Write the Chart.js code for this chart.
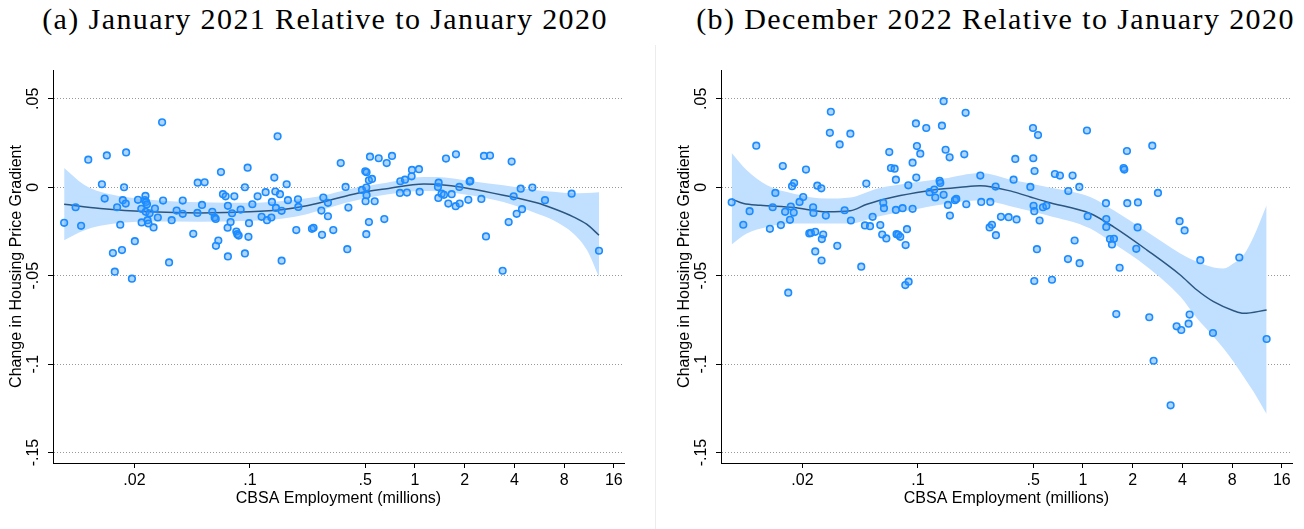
<!DOCTYPE html>
<html lang="en">
<head>
  <meta charset="UTF-8">
  <title>Change in Housing Price Gradient by CBSA Employment</title>
  <script src="https://cdn.jsdelivr.net/npm/chart.js"></script>
  <style>
    body { margin: 0; width: 1304px; height: 529px; overflow: hidden; background: #fff; position: relative; }
    .title {
      position: absolute; top: 3px; height: 34px;
      font-family: "Liberation Serif", "Times New Roman", serif; font-size: 30px; line-height: 32px;
      letter-spacing: 1.4px; text-align: center; white-space: nowrap; color: #000;
    }
    #titleA { left: 0; width: 650px; }
    #titleB { left: 668px; width: 655px; }
    .panel { position: absolute; top: 0; }
    #panelA { left: 0; }
    #panelB { left: 668px; }
    .sep { position: absolute; left: 655px; top: 45px; width: 1px; height: 484px; background: #ececec; }
  </style>
</head>
<body>
  <div class="title" id="titleA">(a) January 2021 Relative to January 2020</div>
  <div class="title" id="titleB">(b) December 2022 Relative to January 2020</div>
  <div class="sep"></div>
  <canvas class="panel" id="panelA" width="656" height="529"></canvas>
  <canvas class="panel" id="panelB" width="636" height="529"></canvas>

  <script>
    // axis ticks
    const xTickVals = [0.02, 0.1, 0.5, 1, 2, 4, 8, 16];
    const xTickLabels = ['.02', '.1', '.5', '1', '2', '4', '8', '16'];
    const yTickVals = [-0.15, -0.1, -0.05, 0, 0.05];
    const yTickLabels = ['-.15', '-.1', '-.05', '0', '.05'];

    // (a) January 2021: CBSA employment (millions) and change in gradient
    const empA = [0.0075, 0.0088, 0.0095, 0.0105, 0.0127, 0.0132, 0.0136, 0.0148, 0.0152, 0.0157,
      0.0164, 0.0168, 0.0170, 0.0173, 0.0177, 0.0178, 0.0193, 0.0201, 0.0210, 0.0220,
      0.0221, 0.0231, 0.0233, 0.0235, 0.0238, 0.0234, 0.0240, 0.0243, 0.0247, 0.0261,
      0.0266, 0.0277, 0.0294, 0.0298, 0.0324, 0.0336, 0.0360, 0.0392, 0.0392, 0.0454,
      0.0483, 0.0481, 0.0513, 0.0532, 0.0592, 0.0612, 0.0621, 0.0623, 0.0644, 0.0668,
      0.0687, 0.0713, 0.0736, 0.0733, 0.0736, 0.0764, 0.0780, 0.0805, 0.0828, 0.0839,
      0.0855, 0.0879, 0.0933, 0.0933, 0.0969, 0.0980, 0.0988, 0.1035, 0.1114, 0.1178,
      0.1246, 0.127, 0.1349, 0.136, 0.1406, 0.1426, 0.1439, 0.1472, 0.1521, 0.1557,
      0.1557, 0.167, 0.170, 0.191, 0.1955, 0.1965, 0.2377, 0.243, 0.271, 0.2735, 0.2785,
      0.297, 0.297, 0.320, 0.355, 0.380, 0.389, 0.395, 0.4775, 0.500, 0.509,
      0.502, 0.507, 0.509, 0.507, 0.526, 0.534, 0.549, 0.526, 0.570, 0.603,
      0.652, 0.674, 0.726, 0.811, 0.815, 0.870, 0.894, 0.954, 0.959, 1.057,
      1.067, 1.378, 1.391, 1.385, 1.450, 1.498, 1.541, 1.592, 1.668, 1.764,
      1.771, 1.865, 1.856, 2.104, 2.143, 2.163, 2.523, 2.617, 2.692, 2.847,
      3.396, 3.693, 3.85, 3.96, 4.13, 4.37, 4.45, 5.14, 6.13, 8.89, 13.02];
    const chgA = [-0.0201, -0.0113, -0.0218, 0.0156, 0.0017, -0.0064, 0.0180, -0.0372, -0.0477, -0.0113,
      -0.0212, -0.0355, -0.0073, 0.0000, -0.0092, 0.0197, -0.0517, -0.0305, -0.0071, -0.0122,
      -0.0199, -0.0073, -0.0049, -0.0083, -0.0096, -0.0139, -0.0186, -0.0205, -0.0147, -0.0227,
      -0.0120, -0.0171, 0.0367, -0.0075, -0.0425, -0.0186, -0.0132, -0.0075, -0.0150, -0.0263,
      0.0026, -0.0145, -0.0100, 0.0028, -0.0139, -0.0171, -0.0179, -0.0331, -0.0301, 0.0086,
      -0.0039, -0.0051, -0.0105, -0.0229, -0.0391, -0.0197, -0.0147, -0.0051, -0.0250, -0.0265,
      -0.0273, -0.0126, 0.0000, -0.0374, 0.0111, -0.0280, -0.0203, -0.0096, -0.0051, -0.0167,
      -0.0028, -0.0186, -0.0171, -0.0083, 0.0055, -0.0024, -0.0117, 0.0288, -0.0039, -0.0133,
      -0.0415, 0.0017, -0.0073, -0.0242, -0.0068, -0.0111, -0.0235, -0.0229, -0.0132, -0.0269, -0.0058,
      -0.0088, -0.0164, -0.0242, 0.0137, 0.0002, -0.0350, -0.0115, -0.0015, 0.0090, 0.0085,
      -0.0079, -0.0002, -0.0045, -0.0265, 0.0039, 0.0173, 0.0047, -0.0197, -0.0079, 0.0164,
      -0.0180, 0.0137, 0.0177, -0.0032, 0.0034, 0.0043, -0.0030, 0.0062, 0.0098, 0.0102,
      -0.0026, 0.0002, 0.0026, -0.0060, -0.0036, -0.0043, 0.0162, -0.0092, -0.0039, -0.0107,
      0.0186, -0.0092, 0.0002, -0.0071, 0.0032, 0.0036, -0.0066, 0.0177, -0.0278, 0.0179,
      -0.0472, -0.0197, 0.0145, -0.0051, -0.0150, -0.0008, -0.0124, -0.0002, -0.0073, -0.0036, -0.0359];

    // (a) local polynomial fit and 95% band
    const fitXA = [0.0075, 0.0124, 0.0248, 0.0499, 0.100, 0.159, 0.221, 0.266, 0.423, 0.674,
      1.134, 1.353, 2.153, 3.43, 5.46, 6.89, 9.10, 10.96, 13.02];
    const fitYA = [-0.0096, -0.0120, -0.0139, -0.0145, -0.0139, -0.0126, -0.0105, -0.0088, -0.0039, -0.0008,
      0.0019, 0.0017, -0.0008, -0.0045, -0.0088, -0.0120, -0.0167, -0.0209, -0.0271];
    const bandXA = [0.0075, 0.0098, 0.0124, 0.0248, 0.0499, 0.100, 0.159, 0.221, 0.266, 0.423,
      0.674, 1.134, 1.353, 2.153, 3.43, 5.46, 6.89, 9.10, 10.96, 13.02];
    const bandHiA = [0.0109, 0.0017, -0.0026, -0.0070, -0.0085, -0.0088, -0.0077, -0.0062, -0.0051, -0.0006,
      0.0026, 0.0058, 0.0058, 0.0036, 0.0011, -0.0017, -0.0026, -0.0034, -0.0032, -0.0028];
    const bandLoA = [-0.0299, -0.0246, -0.0218, -0.0194, -0.0195, -0.0190, -0.0177, -0.0152, -0.0130, -0.0077,
      -0.0041, -0.0021, -0.0023, -0.0045, -0.0083, -0.0148, -0.0186, -0.0261, -0.0352, -0.0506];

    // (b) December 2022
    const empB = [0.00745, 0.00876, 0.00957, 0.0105, 0.0127, 0.0132, 0.0137, 0.0148, 0.0152, 0.0157,
      0.0164, 0.0168, 0.0170, 0.0173, 0.0177, 0.0178, 0.0192, 0.0202, 0.0210, 0.0220,
      0.0225, 0.0232, 0.0233, 0.0239, 0.0239, 0.0246, 0.0260, 0.0261, 0.0262, 0.0267,
      0.0277, 0.0293, 0.0297, 0.0325, 0.0336, 0.0360, 0.0390, 0.0393, 0.0454, 0.0478,
      0.0487, 0.0513, 0.0532, 0.0592, 0.0608, 0.0617, 0.0623, 0.0644, 0.0671, 0.0687,
      0.0723, 0.0736, 0.0736, 0.0743, 0.0760, 0.0782, 0.0808, 0.0839, 0.0843, 0.0859,
      0.0879, 0.0875, 0.0929, 0.0929, 0.0973, 0.0978, 0.0987, 0.1034, 0.1124, 0.1178,
      0.1257, 0.1275, 0.1354, 0.1367, 0.1399, 0.1432, 0.1432, 0.1472, 0.1521, 0.1557,
      0.1563, 0.1677, 0.1708, 0.191, 0.1946, 0.1964, 0.2388, 0.242,
      0.2745, 0.272, 0.281, 0.297, 0.2957, 0.3185, 0.3545, 0.380, 0.389, 0.396,
      0.480, 0.498, 0.534, 0.500, 0.509, 0.502, 0.507, 0.526, 0.507, 0.546,
      0.572, 0.600, 0.649, 0.676, 0.725, 0.811, 0.815, 0.865, 0.890, 0.950,
      0.954, 1.057, 1.067, 1.378, 1.384, 1.384, 1.457, 1.498, 1.540, 1.667,
      1.762, 1.779, 1.846, 1.855, 2.142, 2.152, 2.103, 2.629, 2.845, 3.848,
      4.126, 5.135, 8.846,
      1.591, 2.521, 2.678, 3.395, 3.691, 3.938, 4.363, 4.425, 6.127, 12.95];
    const chgB = [-0.0085, -0.0212, -0.0135, 0.0235, -0.0235, -0.0113, -0.0032, -0.0214, 0.0120, -0.0139,
      -0.0596, -0.0184, -0.0109, 0.0006, -0.0143, 0.0024, -0.0083, -0.0055, 0.0100, -0.0261,
      -0.0258, -0.0113, -0.0145, -0.0252, -0.0363, 0.0009, -0.0006, -0.0414, -0.0293, -0.0267,
      -0.0160, 0.0308, 0.0427, -0.0331, 0.0242, -0.0130, 0.0303, -0.0188, -0.0449, -0.0216,
      0.0021, -0.0220, -0.0167, -0.0214, -0.0267, -0.0088, -0.0118, -0.0289, 0.0199, 0.0109,
      0.0105, 0.0043, -0.0128, -0.0265, -0.0269, -0.0280, -0.0118, -0.0553, -0.0327, -0.0237,
      -0.0534, 0.0011, 0.0139, -0.0122, 0.0361, 0.0055, 0.0233, 0.0190, 0.0335, -0.0028,
      -0.0013, -0.0058, 0.0036, 0.0024, 0.0348, 0.0487, -0.0043, 0.0212, -0.0100, 0.0169,
      -0.0160, -0.0073, -0.0066, 0.0186, 0.0421, -0.0096, 0.0066, -0.0083,
      -0.0083, -0.0227, -0.0212, -0.0271, 0.0004, -0.0167, -0.0169, 0.0043, 0.0160, -0.0182,
      0.0002, 0.0335, 0.0295, 0.0164, 0.0092, -0.0105, -0.0135, -0.0350, -0.0530, -0.0188,
      -0.0113, -0.0105, -0.0523, 0.0075, 0.0066, -0.0406, -0.0021, 0.0066, -0.0301, 0.0002,
      -0.0429, 0.0321, -0.0164, -0.0090, -0.0180, -0.0224, -0.0293, -0.0323, -0.0291, -0.0455,
      0.0109, 0.0100, 0.0205, -0.0090, -0.0227, -0.0086, -0.0348, 0.0235, -0.0032, -0.0192,
      -0.0244, -0.0412, -0.0397,
      -0.0717, -0.0735, -0.0981, -0.1233, -0.0786, -0.0807, -0.0771, -0.0720, -0.0824, -0.0858];

    const fitXB = [0.00745, 0.0088, 0.0111, 0.0177, 0.0281, 0.0390, 0.0491, 0.0713, 0.1135, 0.1432,
      0.1806, 0.2388, 0.380, 0.480, 0.605, 1.107, 1.533, 2.441, 3.884, 4.90,
      6.18, 8.17, 9.40, 12.95];
    const fitYB = [-0.0066, -0.0092, -0.0102, -0.0115, -0.0139, -0.0133, -0.0096, -0.0055, -0.0021, -0.0009,
      0.0000, 0.0009, -0.0026, -0.0055, -0.0083, -0.0148, -0.0224, -0.0355, -0.0496, -0.0581,
      -0.0647, -0.0698, -0.0713, -0.0694];
    const bandXB = [0.00745, 0.0092, 0.0122, 0.0177, 0.0281, 0.0390, 0.0565, 0.0899, 0.1432, 0.2388,
      0.380, 0.605, 1.107, 1.533, 2.441, 3.884, 4.90, 6.18, 7.11, 8.17,
      9.40, 10.80, 12.95];
    const bandHiB = [0.0194, 0.0096, 0.0011, -0.0036, -0.0064, -0.0058, -0.0008, 0.0024, 0.0049, 0.0081,
      0.0039, 0.0002, -0.0055, -0.0130, -0.0252, -0.0374, -0.0421, -0.0453, -0.0459, -0.0430,
      -0.0383, -0.0280, -0.0102];
    const bandLoB = [-0.0323, -0.0261, -0.0224, -0.0205, -0.0205, -0.0205, -0.0167, -0.0130, -0.0096, -0.0073,
      -0.0111, -0.0158, -0.0233, -0.0318, -0.0449, -0.0618, -0.0741, -0.0845, -0.0911, -0.0986,
      -0.1071, -0.1156, -0.1282];

    const axisFont = { family: '"Liberation Sans", Arial, sans-serif', size: 16 };
    const pts = (xs, ys) => xs.map((x, i) => ({ x: x, y: ys[i] }));

    function makeChart(id, emp, chg, fitX, fitY, bandX, bandHi, bandLo, padRight) {
      return new Chart(document.getElementById(id), {
        type: 'scatter',
        data: {
          datasets: [
            {
              label: 'CBSA',
              data: pts(emp, chg),
              pointRadius: 3.3,
              borderWidth: 1.6,
              pointBorderWidth: 1.6,
              backgroundColor: 'rgba(60, 150, 255, 0.4)',
              borderColor: '#1a8cff'
            },
            {
              label: 'Local polynomial fit',
              data: pts(fitX, fitY),
              showLine: true,
              borderColor: '#2a5680',
              borderWidth: 1.5,
              pointRadius: 0,
              cubicInterpolationMode: 'monotone'
            },
            {
              label: '95% CI upper',
              data: pts(bandX, bandHi),
              showLine: true,
              borderColor: 'rgba(0,0,0,0)',
              borderWidth: 0,
              pointRadius: 0,
              backgroundColor: '#c1dfff',
              fill: '+1',
              cubicInterpolationMode: 'monotone'
            },
            {
              label: '95% CI lower',
              data: pts(bandX, bandLo),
              showLine: true,
              borderColor: 'rgba(0,0,0,0)',
              borderWidth: 0,
              pointRadius: 0,
              cubicInterpolationMode: 'monotone'
            }
          ]
        },
        options: {
          responsive: false,
          animation: false,
          events: [],
          layout: { padding: { top: 70, right: padRight, bottom: 0, left: 0 } },
          plugins: { legend: { display: false }, tooltip: { enabled: false } },
          scales: {
            x: {
              type: 'logarithmic',
              min: 0.00642,
              max: 18.45,
              afterBuildTicks: s => { s.ticks = xTickVals.map(v => ({ value: v })); },
              afterFit: s => { s.height = 66; },
              ticks: {
                autoSkip: false, maxRotation: 0, minRotation: 0, padding: 3,
                color: '#000', font: axisFont,
                callback: (v, i) => xTickLabels[i]
              },
              grid: { drawOnChartArea: false, tickLength: 5, tickColor: '#000', color: '#000' },
              border: { color: '#000', width: 1 },
              title: {
                display: true, text: 'CBSA Employment (millions)', color: '#000',
                font: axisFont, padding: { top: 0, bottom: 21 }
              }
            },
            y: {
              min: -0.1559,
              max: 0.0663,
              afterBuildTicks: s => { s.ticks = yTickVals.map(v => ({ value: v })); },
              afterFit: s => { s.width = 53; },
              ticks: {
                minRotation: 90, maxRotation: 90, crossAlign: 'center', padding: 1,
                color: '#000', font: axisFont,
                callback: (v, i) => yTickLabels[i]
              },
              grid: { color: '#999', lineWidth: 1, tickLength: 5, tickColor: '#000' },
              border: { color: '#000', width: 1, dash: [1, 2] },
              title: {
                display: true, text: 'Change in Housing Price Gradient', color: '#000',
                font: axisFont, padding: { top: 7, bottom: 0 }
              }
            }
          }
        }
      });
    }

    makeChart('panelA', empA, chgA, fitXA, fitYA, bandXA, bandHiA, bandLoA, 32);
    makeChart('panelB', empB, chgB, fitXB, fitYB, bandXB, bandHiB, bandLoB, 12);
  </script>
</body>
</html>
